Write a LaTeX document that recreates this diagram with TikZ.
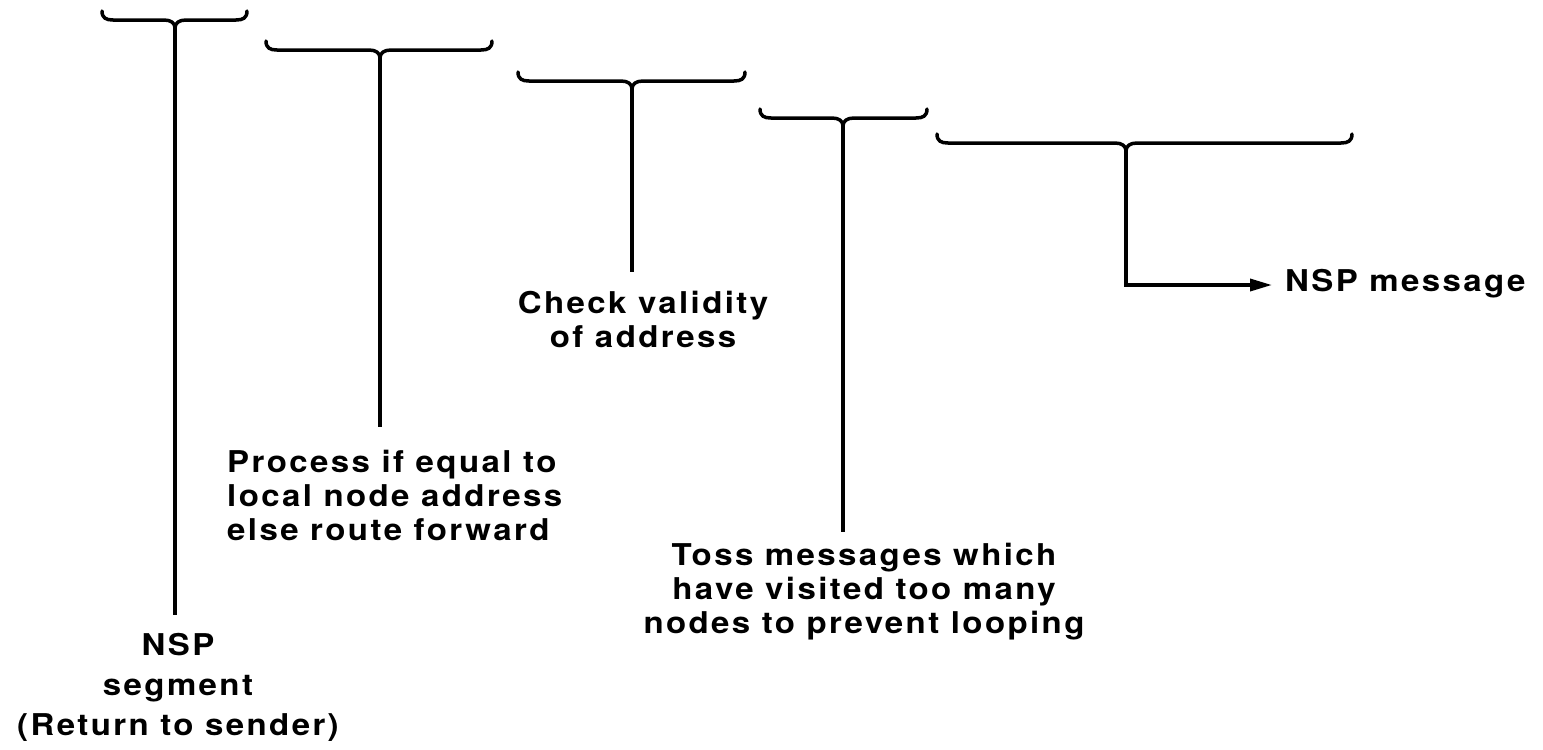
\documentclass[tikz,border=0pt]{standalone}
\usepackage{fontspec}
\setmainfont{TeX Gyre Heros}[FakeStretch=1.1,LetterSpace=8]
\usetikzlibrary{arrows.meta}
\tikzset{
  brc/.style={line width=3.5pt,line cap=round,line join=round},
  stem/.style={line width=3.5pt},
  lbl/.style={inner sep=0pt,font=\bfseries\fontsize{30}{34}\selectfont}
}
% name, left x, right x, centre x, y of horizontal
\newcommand{\mybrace}[5]{%
  \draw[brc] (#2,#5-9) .. controls (#2,#5-2) and (#2+4,#5) .. (#2+11,#5)
    -- (#4-11,#5) .. controls (#4-4,#5) and (#4,#5+3) .. (#4,#5+8)
    .. controls (#4,#5+3) and (#4+4,#5) .. (#4+11,#5)
    -- (#3-11,#5) .. controls (#3-4,#5) and (#3,#5-2) .. (#3,#5-9);
  \coordinate (#1) at (#4,#5+8);}
\begin{document}
\begin{tikzpicture}[x=1pt,y=-1pt]
\useasboundingbox (0,0) rectangle (1543,750);
\fill[white] (0,0) rectangle (1543,750);

\mybrace{b1}{102}{247}{175}{20}
\mybrace{b2}{266}{492}{380}{50}
\mybrace{b3}{518}{745}{632}{81}
\mybrace{b4}{760}{927}{843}{118}
\mybrace{b5}{937}{1352}{1126}{143}

\coordinate (e1) at (175,615);
\coordinate (e2) at (380,427);
\coordinate (e3) at (632,272);
\coordinate (e4) at (843,532);
\coordinate (k5) at (1126,285);
\coordinate (a5) at (1272,285);

\node[lbl,anchor=north,align=center,font=\bfseries\fontsize{30}{40}\selectfont] (t1) at (178,633) {NSP\\segment\\(Return to sender)};
\node[lbl,anchor=north west,align=left] (t2) at (227,450) {Process if equal to\\local node address\\else route forward};
\node[lbl,anchor=north,align=center] (t3) at (643,291) {Check validity\\of address};
\node[lbl,anchor=north,align=center] (t4) at (864,543) {Toss messages which\\have visited too many\\nodes to prevent looping};
\node[lbl,anchor=base west] (t5) at (1285,291) {NSP message};

\draw[stem] (b1) -- (e1);
\draw[stem] (b2) -- (e2);
\draw[stem] (b3) -- (e3);
\draw[stem] (b4) -- (e4);
\draw[stem,-{Triangle[length=22pt,width=12pt]}] (b5) -- (k5) -- (a5);
\end{tikzpicture}
\end{document}
